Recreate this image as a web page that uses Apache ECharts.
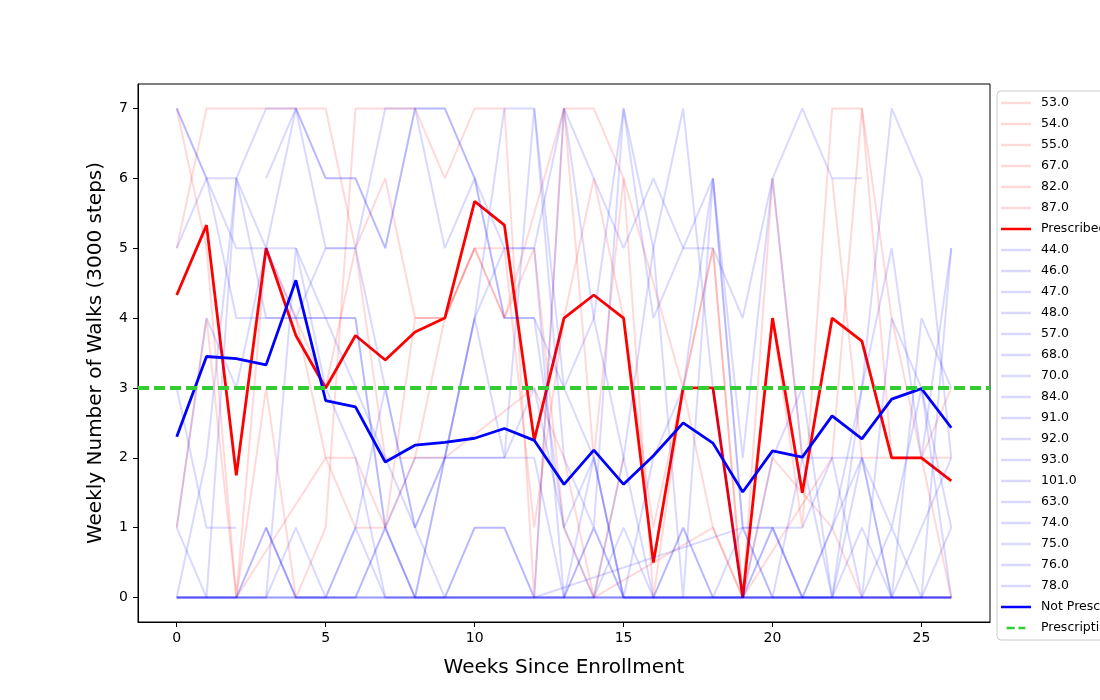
<!DOCTYPE html>
<html>
<head>
    <meta charset="UTF-8">
    <title>Weekly Number of Walks</title>
    <script src="https://cdn.jsdelivr.net/npm/echarts@6/dist/echarts.min.js"></script>
</head>
<body style="margin: 0;background: #fff;">
<div id="chart" style="width: 1100px;height: 700px;"></div>
<script>
    var n = null;
    var weeks = [0, 1, 2, 3, 4, 5, 6, 7, 8, 9, 10, 11, 12, 13, 14, 15, 16, 17, 18, 19, 20, 21, 22, 23, 24, 25, 26];
    var xTicks = [0, 5, 10, 15, 20, 25];
    var yTicks = [0, 1, 2, 3, 4, 5, 6, 7];
    var prescriptionTarget = 3;

    // prescribed participants (faint red)
    var prescribedIds = ['53.0', '54.0', '55.0', '67.0', '82.0', '87.0'];
    var p53 = [7, 5, 0, 3, 0, 1, 7, 7, 7, 6, 7, 7, 0, 7, 7, 6, 0, 3, 5, 0, 6, 2, n, n, n, n, n];
    var p54 = [5, 7, 7, 7, 7, 7, 5, 6, 4, 4, 5, 5, 1, 4, 6, 4, 1, 3, 1, 0, 4, 1, 7, 7, 2, 2, 2];
    var p55 = [1, 4, 0, 5, 4, 2, 1, 1, 4, 4, 5, 4, 5, 1, 0, 2, n, n, n, n, n, n, n, n, n, n, n];
    var p67 = [n, n, 0, n, n, 2, 2, 1, 2, 2, n, n, 3, 2, 0, n, n, n, 1, 0, 2, n, 1, 0, 0, 0, 0];
    var p82 = [n, n, n, n, 4, 3, 5, 2, 2, 4, 5, 4, n, 7, 2, 6, n, 3, 5, 0, n, n, 2, 7, 4, 2, 3];
    var p87 = [n, n, n, n, n, n, n, n, n, n, n, n, n, n, n, n, n, n, n, n, n, n, 6, 2, 2, 2, 0];
    var prescribedRows = [p53, p54, p55, p67, p82, p87];
    var prescribedMean = [4.33, 5.33, 1.75, 5.0, 3.75, 3.0, 3.75, 3.4, 3.8, 4.0, 5.67, 5.33, 2.25, 4.0, 4.33, 4.0, 0.5, 3.0, 3.0, 0, 4.0, 1.5, 4.0, 3.67, 2.0, 2.0, 1.67];

    // not prescribed participants (faint blue)
    var notPrescribedIds = ['44.0', '46.0', '47.0', '48.0', '57.0', '68.0', '70.0', '84.0', '91.0', '92.0', '93.0', '101.0', '63.0', '74.0', '75.0', '76.0', '78.0'];
    var q44 = [7, 6, 5, 5, 7, 6, 6, 5, 7, 7, 6, 4, 4, 3, 2, 0, 0, 0, 0, 0, 1, 0, 0, 0, 0, 0, 1];
    var q46 = [5, 6, 6, 5, 4, 5, 5, 7, 7, 7, 6, 5, 5, 7, 6, 5, 6, 5, 5, 4, 6, 7, 6, 6, n, n, n];
    var q47 = [0, 0, 0, 0, 1, 0, 0, 0, 0, 0, 0, 0, 0, 0, 1, 0, 0, 1, 0, 1, 0, 0, 0, 1, 0, 0, 0];
    var q48 = [1, 0, 0, 0, 0, 0, 0, 1, 0, 0, 1, 1, 0, 0, 0, 0, 0, 0, 0, 0, 0, 0, 0, 0, 0, 0, 0];
    var q57 = [3, 1, 1, n, n, n, n, n, n, n, n, n, n, n, n, n, n, n, n, n, n, n, n, n, n, n, n];
    var q68 = [n, n, n, 6, 7, 5, 5, 3, 1, 2, 4, 2, 7, 2, 1, 7, 5, 0, 6, 1, 0, 2, 2, 0, 4, 3, 0];
    var q70 = [7, 6, 4, 4, 4, 4, 4, 1, 2, 2, 2, 2, 3, 1, 2, 0, 2, 3, 6, 1, 1, 1, 2, 2, 0, 4, 3];
    var q84 = [0, 0, 0, 1, 0, 0, 1, 0, 0, 0, 0, 0, 0, n, n, n, n, n, n, 1, 1, 0, 0, 0, 0, 0, 0];
    var q91 = [0, 0, 0, 0, 5, 3, 2, 0, 0, 2, 4, 7, 7, 3, 4, 7, 4, 5, 6, 2, 6, 2, 0, 3, 7, 6, 2];
    var q92 = [1, 4, 3, 5, 5, 4, 3, 2, 1, 2, 4, 5, 5, 0, 0, 2, 5, 7, 3, 0, 0, 0, 1, 3, 5, 2, 5];
    var q93 = [0, 0, 0, 0, 0, 0, 0, 0, 0, 0, 0, 0, 0, 0, 0, 0, 0, 0, 0, 0, 0, 0, 0, 0, 0, 0, 0];
    var q101 = [0, 0, 0, 0, 0, 0, 0, 0, 0, 0, 0, 0, 0, 0, 0, 0, 0, 0, 0, 0, 0, 0, 0, 0, 0, 0, 0];
    var q63 = [n, n, n, 1, 0, 0, 1, 3, 1, 0, 1, 1, 0, 7, 4, 2, 0, 1, 0, 0, 2, 3, 0, 2, 1, 3, 1];
    var q74 = [0, 0, 6, 7, 7, 6, 6, 5, 7, 5, 6, 4, 4, 1, 0, 0, 0, 0, 0, 0, 0, 0, 0, 0, 0, 0, 0];
    var q75 = [0, 0, 0, 1, 0, 0, 0, 1, 0, 0, 0, 0, 0, 0, 1, 0, 0, 0, 0, 0, 1, 0, 0, 0, 0, 0, 0];
    var q76 = [n, n, n, n, n, n, n, n, 0, 2, 2, 2, 2, 0, 0, 1, 0, 0, 0, 0, 0, 0, 1, 2, 0, 1, 2];
    var q78 = [0, 2, 6, 4, 4, 4, 4, 1, 0, 0, 0, 0, 0, 0, 2, 0, 0, 0, 0, 0, 0, 0, 0, 0, 1, 0, 5];
    var notPrescribedRows = [q44, q46, q47, q48, q57, q68, q70, q84, q91, q92, q93, q101, q63, q74, q75, q76, q78];
    var notPrescribedMean = [2.3, 3.45, 3.42, 3.33, 4.54, 2.82, 2.73, 1.94, 2.18, 2.22, 2.28, 2.42, 2.25, 1.62, 2.11, 1.62, 2.03, 2.5, 2.21, 1.51, 2.1, 2.01, 2.6, 2.27, 2.84, 2.99, 2.43];

    function pairs(vals) {
        return vals.map(function (v, i) {
            return [weeks[i], v];
        }).filter(function (p) {
            return p[1] !== null;
        });
    }

    function faint(name, vals, color) {
        return {
            name: name,
            type: 'line',
            data: pairs(vals),
            symbol: 'none',
            silent: true,
            lineStyle: {color: color, width: 2},
            itemStyle: {color: color}
        };
    }

    function bold(name, vals, color) {
        return {
            name: name,
            type: 'line',
            data: pairs(vals),
            symbol: 'none',
            lineStyle: {color: color, width: 2.8},
            itemStyle: {color: color}
        };
    }

    var series = [];
    prescribedRows.forEach(function (row, i) {
        series.push(faint(prescribedIds[i], row, 'rgba(255,0,0,0.15)'));
    });
    series.push(bold('Prescribed', prescribedMean, '#ff0000'));
    notPrescribedRows.forEach(function (row, i) {
        series.push(faint(notPrescribedIds[i], row, 'rgba(0,0,255,0.15)'));
    });
    series.push(bold('Not Prescribed', notPrescribedMean, '#0000ff'));
    series.push({
        name: 'Prescription',
        type: 'line',
        data: [],
        symbol: 'none',
        lineStyle: {color: '#32cd32', width: 4, type: [11, 5]},
        itemStyle: {color: '#32cd32'},
        markLine: {
            silent: true,
            symbol: 'none',
            label: {show: false},
            lineStyle: {color: '#32cd32', width: 4, type: [11, 5]},
            data: [{yAxis: prescriptionTarget}]
        }
    });

    // legend entries drawn as plain line swatches
    var legendData = series.map(function (s) {
        if (s.name === 'Prescription') {
            return {name: s.name, icon: 'path://M0,0h13v4h-13z M19,0h11v4h-11z'};
        }
        return {name: s.name};
    });

    var font = 'DejaVu Sans';
    var chart = echarts.init(document.getElementById('chart'));
    chart.setOption({
        animation: false,
        backgroundColor: '#fff',
        grid: {
            left: 138, top: 84, width: 852, height: 538,
            show: true, borderColor: '#000', borderWidth: 1
        },
        legend: {
            orient: 'vertical',
            left: 997,
            top: 91,
            data: legendData,
            icon: 'rect',
            itemWidth: 30,
            itemHeight: 2.5,
            itemGap: 7,
            padding: [5, 8, 5, 4],
            backgroundColor: '#fff',
            borderColor: '#cccccc',
            borderWidth: 1,
            borderRadius: 4,
            textStyle: {fontFamily: font, fontSize: 12.5, color: '#000', lineHeight: 14, padding: [0, 0, 0, 5]}
        },
        xAxis: {
            type: 'value',
            min: -1.3,
            max: 27.3,
            name: 'Weeks Since Enrollment',
            nameLocation: 'middle',
            nameGap: 36,
            nameTextStyle: {fontFamily: font, fontSize: 20, color: '#000'},
            splitLine: {show: false},
            axisLine: {onZero: false, lineStyle: {color: '#000'}},
            axisTick: {length: 5, lineStyle: {color: '#000'}, customValues: xTicks},
            axisLabel: {fontFamily: font, fontSize: 14, color: '#000', margin: 9, customValues: xTicks}
        },
        yAxis: {
            type: 'value',
            min: -0.35,
            max: 7.35,
            name: 'Weekly Number of Walks (3000 steps)',
            nameLocation: 'middle',
            nameGap: 32,
            nameTextStyle: {fontFamily: font, fontSize: 20, color: '#000'},
            splitLine: {show: false},
            axisLine: {show: true, onZero: false, lineStyle: {color: '#000'}},
            axisTick: {show: true, length: 5, lineStyle: {color: '#000'}, customValues: yTicks},
            axisLabel: {fontFamily: font, fontSize: 14, color: '#000', margin: 10, customValues: yTicks}
        },
        series: series
    });
</script>
</body>
</html>
